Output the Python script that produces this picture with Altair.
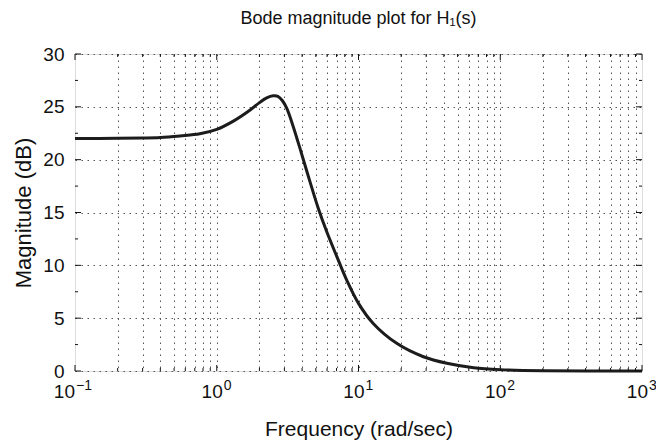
import altair as alt
import pandas as pd

# ---- data ----
freq = [0.1, 0.2, 0.3, 0.4, 0.55, 0.76, 1.0, 1.31, 1.72, 2.0, 2.25, 2.5, 2.7, 2.9,
        3.12, 3.47, 4.0, 4.55, 5.2, 6.0, 7.0, 8.26, 10.0, 12.7, 18.6, 28.7, 42.0,
        65.0, 100.0, 200.0, 1000.0]
mag = [22.0, 22.02, 22.05, 22.1, 22.25, 22.45, 22.87, 23.65, 24.7, 25.4, 25.85, 26.05,
       26.0, 25.6, 24.85, 23.1, 20.4, 17.9, 15.4, 13.1, 10.9, 8.6, 6.4, 4.5, 2.62,
       1.35, 0.73, 0.31, 0.13, 0.03, 0.0]

x_major = [0.1, 1, 10, 100, 1000]
x_minor = [0.2, 0.3, 0.4, 0.5, 0.6, 0.7, 0.8, 0.9,
           2, 3, 4, 5, 6, 7, 8, 9,
           20, 30, 40, 50, 60, 70, 80, 90,
           200, 300, 400, 500, 600, 700, 800, 900]
x_grid = x_minor + [1, 10, 100]
exponents = ["\u22121", "0", "1", "2", "3"]

y_major = [0, 5, 10, 15, 20, 25, 30]
y_minor = [2.5, 7.5, 12.5, 17.5, 22.5, 27.5]

W, H = 567, 317
FONT = "Liberation Sans"
INK = "#111"

curve = pd.DataFrame({"freq": freq, "mag": mag})
xmaj = pd.DataFrame({"freq": x_major, "exp": exponents})
xmin = pd.DataFrame({"freq": x_minor})
ymaj = pd.DataFrame({"mag": y_major})
ymin = pd.DataFrame({"mag": y_minor})

xscale = alt.Scale(type="log", domain=[0.1, 1000], nice=False)
yscale = alt.Scale(domain=[0, 30], nice=False)

GRID = dict(grid=True, gridDash=[1.5, 4.5], gridColor="#555", gridWidth=1)

line = alt.Chart(curve).mark_line(
    color="#1c1c1c", strokeWidth=3, interpolate="catmull-rom"
).encode(
    x=alt.X("freq:Q", scale=xscale,
            axis=alt.Axis(values=x_grid, labels=False, ticks=False, domain=False,
                          title="Frequency (rad/sec)", titleFont=FONT, titleFontSize=21,
                          titleFontWeight="normal", titleColor=INK, titlePadding=47,
                          **GRID)),
    y=alt.Y("mag:Q", scale=yscale,
            axis=alt.Axis(values=y_major, ticks=False, domain=False, labelFont=FONT,
                          labelFontSize=19, labelColor=INK, labelPadding=11,
                          title="Magnitude (dB)", titleFont=FONT, titleFontSize=22,
                          titleFontWeight="normal", titleColor=INK, titlePadding=7,
                          **GRID)),
)

def xticks(df, length):
    bottom = alt.Chart(df).mark_rule(color=INK, strokeWidth=1).encode(
        x=alt.X("freq:Q", scale=xscale), y=alt.value(H), y2=alt.value(H - length))
    top = alt.Chart(df).mark_rule(color=INK, strokeWidth=1).encode(
        x=alt.X("freq:Q", scale=xscale), y=alt.value(0), y2=alt.value(length))
    return bottom + top

def yticks(df, length):
    left = alt.Chart(df).mark_rule(color=INK, strokeWidth=1).encode(
        y=alt.Y("mag:Q", scale=yscale), x=alt.value(0), x2=alt.value(length))
    right = alt.Chart(df).mark_rule(color=INK, strokeWidth=1).encode(
        y=alt.Y("mag:Q", scale=yscale), x=alt.value(W), x2=alt.value(W - length))
    return left + right

ten_neg = alt.Chart(xmaj).transform_filter("datum.freq < 0.5").mark_text(
    font=FONT, fontSize=19, align="right", baseline="alphabetic", dx=0, color=INK
).encode(x=alt.X("freq:Q", scale=xscale), y=alt.value(H + 27), text=alt.value("10"))
ten_pos = alt.Chart(xmaj).transform_filter("datum.freq > 0.5").mark_text(
    font=FONT, fontSize=19, align="right", baseline="alphabetic", dx=6, color=INK
).encode(x=alt.X("freq:Q", scale=xscale), y=alt.value(H + 27), text=alt.value("10"))
exp_neg = alt.Chart(xmaj).transform_filter("datum.freq < 0.5").mark_text(
    font=FONT, fontSize=14, align="left", baseline="alphabetic", dx=1, color=INK
).encode(x=alt.X("freq:Q", scale=xscale), y=alt.value(H + 19), text="exp:N")
exp_pos = alt.Chart(xmaj).transform_filter("datum.freq > 0.5").mark_text(
    font=FONT, fontSize=14, align="left", baseline="alphabetic", dx=7, color=INK
).encode(x=alt.X("freq:Q", scale=xscale), y=alt.value(H + 19), text="exp:N")

chart = alt.layer(
    line,
    xticks(xmin, 3), xticks(xmaj, 6),
    yticks(ymin, 3), yticks(ymaj, 6),
    ten_neg, ten_pos, exp_neg, exp_pos,
).properties(
    width=W, height=H,
    title=alt.TitleParams("Bode magnitude plot for H\u2081(s)", font=FONT, fontSize=18,
                          fontWeight="normal", color=INK, anchor="middle", offset=17),
    autosize=alt.AutoSizeParams(type="none"),
    padding={"left": 75, "top": 54, "right": 14, "bottom": 74},
).configure_view(
    stroke=INK, strokeWidth=1.5
).configure(background="white")

chart.save("out.html", embed_options={"renderer": "svg", "actions": False})
